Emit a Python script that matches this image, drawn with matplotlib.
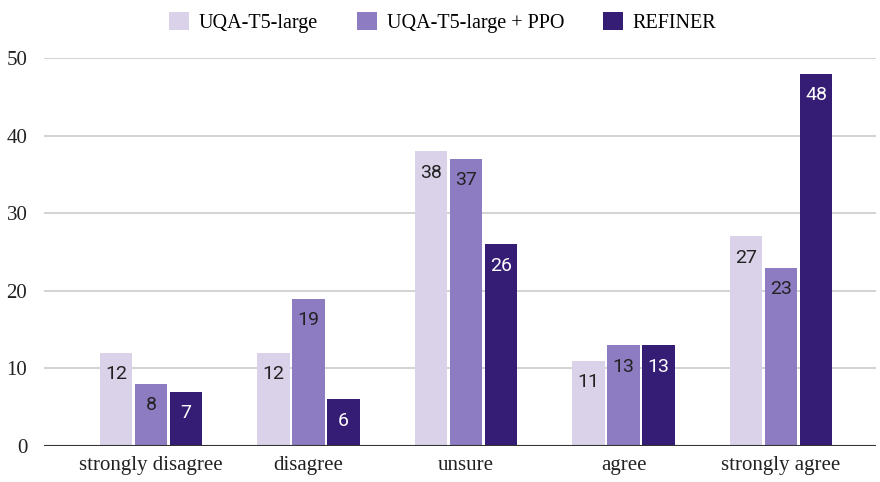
import matplotlib.pyplot as plt
import numpy as np

categories = ["strongly disagree", "disagree", "unsure", "agree", "strongly agree"]
series_names = ["UQA-T5-large", "UQA-T5-large + PPO", "REFINER"]
uqa = [12, 12, 38, 11, 27]
uqa_ppo = [8, 19, 37, 13, 23]
refiner = [7, 6, 26, 13, 48]
colors = ["#d9d2e9", "#8e7cc3", "#351c75"]
label_colors = ["#222222", "#222222", "white"]

serif = ["Liberation Serif", "DejaVu Serif"]

fig = plt.figure(figsize=(8.8, 4.82), dpi=100)
ax = fig.add_axes([0.05, 0.0747, 0.945, 0.805])

x = np.arange(len(categories))
width = 0.205
step = 0.222
for i, (vals, name) in enumerate(zip([uqa, uqa_ppo, refiner], series_names)):
    pos = x + (i - 1) * step
    bars = ax.bar(pos, vals, width, color=colors[i], label=name, zorder=3)
    for b, v in zip(bars, vals):
        ax.annotate(str(v), (b.get_x() + b.get_width() / 2, v),
                    xytext=(0, -9), textcoords="offset points",
                    ha="center", va="top", fontsize=14,
                    family="Roboto", color=label_colors[i], zorder=4)

ax.set_xlim(-0.68, 4.6)
ax.set_ylim(0, 50)
ax.set_yticks([0, 10, 20, 30, 40, 50])
ax.yaxis.grid(True, color="#cccccc", linewidth=1.2, zorder=0)
ax.axhline(0, color="#333333", linewidth=1.5, zorder=5)
for s in ax.spines.values():
    s.set_visible(False)
ax.tick_params(length=0)
ax.set_xticks(x)
ax.set_xticklabels(categories, family=serif, fontsize=15, color="#222222")
for t in ax.get_yticklabels():
    t.set_family(serif)
    t.set_fontsize(15)
    t.set_color("#222222")
ax.tick_params(axis="x", pad=7)
ax.tick_params(axis="y", pad=12)

fig.legend(loc="upper center", bbox_to_anchor=(0.503, 1.012), ncol=3,
           frameon=False, handlelength=1.0, handleheight=1.0,
           columnspacing=1.9, handletextpad=0.5,
           prop={"family": serif, "size": 14.5})

fig.savefig("out.png", dpi=100)
